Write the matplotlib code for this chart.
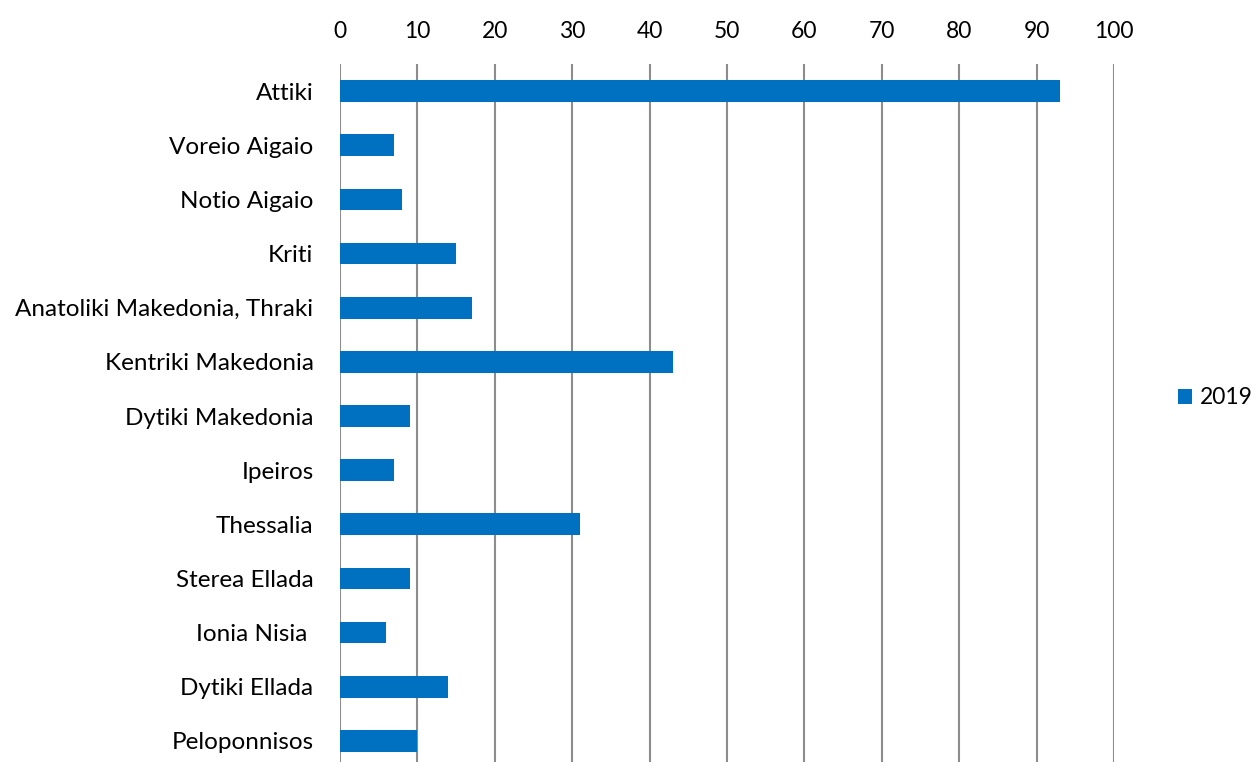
import matplotlib
matplotlib.use("Agg")
import matplotlib.pyplot as plt

regions = ["Attiki", "Voreio Aigaio", "Notio Aigaio", "Kriti",
           "Anatoliki Makedonia, Thraki", "Kentriki Makedonia",
           "Dytiki Makedonia", "Ipeiros", "Thessalia", "Sterea Ellada",
           "Ionia Nisia ", "Dytiki Ellada", "Peloponnisos"]
values_2019 = [93, 7, 8, 15, 17, 43, 9, 7, 31, 9, 6, 14, 10]
x_ticks = list(range(0, 101, 10))

plt.rcParams['font.family'] = ['Lato', 'DejaVu Sans']

fig = plt.figure(figsize=(12.56, 7.62), dpi=100)
ax = fig.add_axes([340 / 1256, 1 - 768 / 762, (1114 - 340) / 1256, 704 / 762])

pos = list(range(len(regions)))
ax.barh(pos, values_2019, height=0.4, color='#0070C0', label='2019', zorder=3)

ax.set_ylim(len(regions) - 0.5, -0.5)
ax.set_xlim(0, 100)
ax.set_yticks(pos)
ax.set_yticklabels(regions, fontsize=17.5)
ax.set_xticks(x_ticks)
ax.xaxis.tick_top()
ax.tick_params(axis='x', labelsize=16.5, length=0, pad=16)
ax.tick_params(axis='y', length=0, pad=19)
ax.grid(True, axis='x', color='#8c8c8c', linewidth=1.5, zorder=0)
for s in ax.spines.values():
    s.set_visible(False)

fig.legend(loc='center left', bbox_to_anchor=(1178 / 1256, 1 - 398 / 762),
           frameon=False, fontsize=16.5, handlelength=0.6, handleheight=0.6,
           handletextpad=0.35, borderaxespad=0, borderpad=0)

fig.savefig("out.png", dpi=100)
